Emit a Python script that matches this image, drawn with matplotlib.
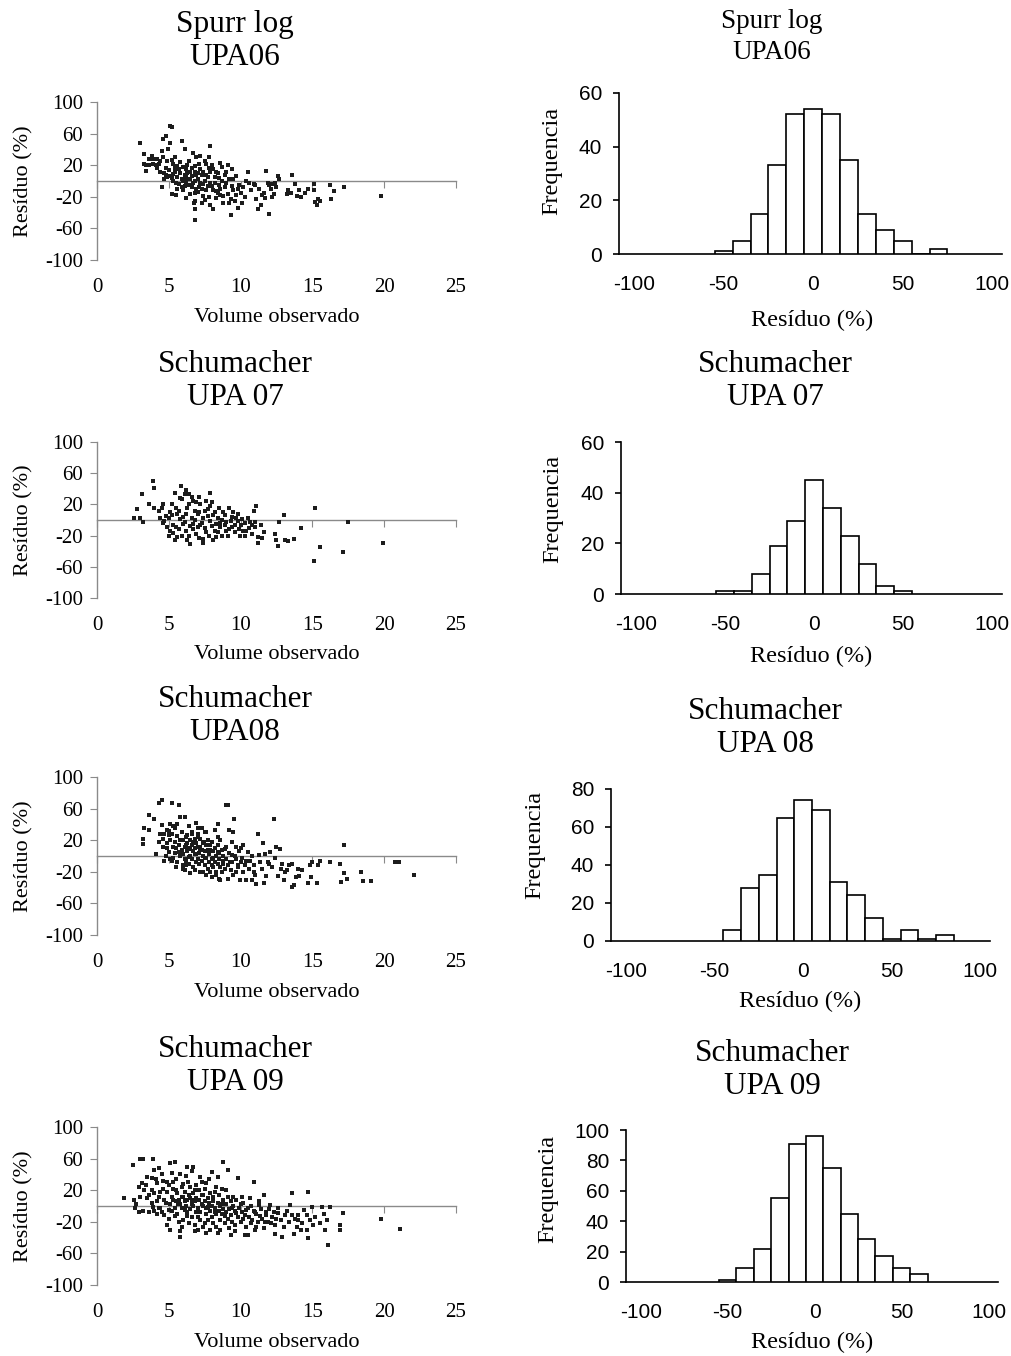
import matplotlib
matplotlib.use("Agg")
import matplotlib.pyplot as plt

plt.rcParams["axes.unicode_minus"] = False
plt.rcParams["font.family"] = ["Liberation Serif", "DejaVu Serif"]
SANS = ["Liberation Sans", "DejaVu Sans"]

# ---------------- data ----------------
vol_ticks = [0, 5, 10, 15, 20, 25]
resid_ticks = [-100, -60, -20, 20, 60, 100]
hist_xticks = [-100, -50, 0, 50, 100]

# scatter: (Volume observado, Resíduo %)
spurr06_pts = [
    (3.0, 48), (3.3, 34), (3.3, 22), (3.4, 13), (3.4, 20), (3.6, 20), (3.8, 32), (3.9, 22), (3.9, 28), (3.6, 28),
    (4.1, 20), (4.2, 16), (4.3, 22), (4.4, 12), (4.5, -8), (4.5, 38), (4.6, 53), (4.7, 10), (4.8, 57), (4.8, 17),
    (4.9, 25), (4.9, 5), (4.6, 30), (4.4, 25), (4.7, 2), (4.95, 40), (5.0, 14), (4.2, 28), (4.8, 8),
    (5.1, 70), (5.2, 68), (5.1, 48), (5.2, 27), (5.0, 6), (5.3, 0), (5.2, -17), (5.6, 19), (5.3, 22), (5.4, 12),
    (5.5, -3), (5.6, 5), (5.7, -4), (5.8, 10), (5.9, 51), (5.5, -18), (5.3, 9), (5.7, 15), (5.4, 30), (5.9, -8),
    (5.6, -10), (5.2, 4), (5.8, 24), (5.45, 17), (5.9, 2),
    (6.1, 40), (6.0, -11), (6.2, -21), (6.2, 15), (6.6, 6), (6.7, 36), (6.8, 19), (6.8, 0), (6.8, -15), (6.8, -25),
    (6.8, -36), (6.8, -49), (6.1, 8), (6.3, 2), (6.4, -5), (6.5, 12), (6.3, 20), (6.0, 0), (6.6, -8), (6.9, 8),
    (6.5, -16), (6.2, -2), (6.4, 25), (6.9, 30), (6.7, -3), (6.1, -6), (6.6, 17), (6.9, -10), (6.3, 10), (6.0, 18),
    (6.5, 3), (6.8, 12), (6.2, 5), (6.75, -28),
    (7.2, 32), (7.3, 8), (7.4, -4), (7.4, -19), (7.6, 21), (7.9, 44), (7.9, 11), (7.0, 2), (7.1, -8), (7.2, 15),
    (7.5, 0), (7.6, -12), (7.7, 5), (7.8, -20), (7.0, -14), (7.3, -28), (7.5, 25), (7.8, 30), (7.1, 22), (7.4, 12),
    (7.7, -6), (7.9, -2), (7.2, -2), (7.6, 8), (7.0, 10), (7.3, -10), (7.8, 16), (7.5, -24), (7.9, -30),
    (8.0, -6), (8.1, -35), (8.3, -13), (8.6, 23), (8.7, 0), (8.8, -19), (8.2, 5), (8.4, 10), (8.5, -5), (8.1, 15),
    (8.3, -22), (8.6, -10), (8.9, 8), (8.2, -2), (8.4, -15), (8.7, 18), (8.9, -8), (8.5, 4), (8.0, 20), (8.3, 12),
    (8.8, -28), (8.6, -18), (8.1, -12),
    (9.0, 11), (9.3, -43), (9.3, -23), (9.4, -6), (9.7, 6), (9.8, -34), (9.2, 2), (9.5, -12), (9.1, -16), (9.6, -25),
    (9.9, -5), (9.4, 15), (9.2, -28), (9.0, -2), (9.7, -18), (9.5, 3), (9.8, -10), (9.1, 20),
    (10.0, -15), (10.4, 0), (10.5, 11), (10.9, -4), (10.2, -8), (10.3, -20), (10.6, -2), (10.1, -28), (10.7, -12),
    (11.1, -23), (11.2, -36), (11.6, -15), (11.8, 13), (11.0, -5), (11.3, -10), (11.5, -18), (11.9, -3), (11.4, -30),
    (11.7, -22), (12.0, -42), (12.2, -4), (12.3, -17), (12.6, 6), (12.1, -10), (12.4, -2), (12.7, 3), (12.2, -20),
    (12.5, -8), (12.0, -5), (13.2, -17), (13.6, 7), (13.9, -19), (13.3, -12), (13.8, -4), (13.5, -15),
    (14.1, -11), (14.5, -15), (14.2, -20), (14.7, -10), (15.1, -4), (15.2, -27), (15.4, -23), (15.3, -30),
    (15.1, -12), (15.5, -25), (16.3, -23), (16.5, -13), (17.2, -8), (19.8, -19), (16.2, -5),
]

schum07_pts = [
    (2.6, 3), (2.8, 14), (3.0, 3), (3.1, 33), (3.2, -2), (3.6, 20), (3.9, 50), (4.0, 41), (4.0, 16), (4.3, 12),
    (4.4, 3), (4.5, 16), (4.6, -4), (4.7, -1), (4.9, -9), (5.0, 3), (5.1, -14), (5.2, 21), (5.3, -17), (5.4, 35),
    (5.4, -26), (5.5, -9), (5.6, 8), (5.7, 12), (5.8, 1), (5.85, 43), (5.9, 27), (5.96, -5), (6.1, 33), (6.2, 8),
    (6.2, -14), (6.3, -26), (6.4, 20), (6.4, 33), (6.5, -31), (6.6, 3), (6.7, 25), (6.7, -5), (6.8, 12), (6.9, 23),
    (7.0, -9), (7.1, 10), (7.1, -23), (7.2, -7), (7.4, -30), (7.4, 3), (7.5, 12), (7.6, -16), (7.6, 25), (7.75, 14),
    (7.9, 18), (7.9, -1), (8.0, 23), (8.05, -26), (8.1, 6), (8.2, -14), (8.3, -5), (8.45, 3), (8.6, -9), (8.7, 0),
    (8.8, 10), (8.9, -7), (9.0, -14), (9.2, 15), (9.3, -1), (9.4, -9), (9.5, 10), (9.6, -6), (9.7, 3), (9.8, -1),
    (9.95, -20), (10.1, 1), (10.2, -14), (10.3, -20), (10.4, -14), (10.5, 3), (10.65, -3), (10.8, -18), (10.9, 12),
    (11.0, -9), (11.1, 18), (11.2, -29), (11.2, -22), (11.4, -7), (11.5, -23), (11.6, -16), (12.4, -18),
    (12.45, -26), (12.6, -33), (12.7, -2), (13.0, 7), (13.1, -26), (13.3, -27), (13.7, -24), (14.2, -10),
    (15.1, -52), (15.2, 16), (15.5, -34), (17.1, -41), (17.5, -2), (19.9, -29),
    (4.8, 5), (5.0, -20), (5.2, 6), (5.5, 16), (5.7, -12), (5.9, -20), (6.0, 4), (6.1, -2), (6.3, 15), (6.5, -8),
    (6.6, 30), (6.8, 0), (6.9, -18), (7.0, 8), (7.2, 20), (7.3, -4), (7.5, -10), (7.7, 5), (7.8, -20), (8.0, -8),
    (8.2, 10), (8.4, -16), (8.5, 16), (8.7, -20), (8.9, 6), (9.0, -3), (9.2, -12), (9.4, 4), (9.6, -16), (9.8, 8),
    (10.0, -6), (10.3, -4), (10.6, -10), (11.0, -2), (6.4, -20), (5.6, -22), (7.9, 34), (6.2, 38), (5.3, -6),
    (6.7, -12), (7.4, -24), (8.3, -22), (9.1, -20), (4.6, 20), (5.8, 28), (7.1, 30), (8.6, -4), (9.9, -12),
    (10.8, -6), (5.1, 10),
]

schum08_pts = [
    (3.2, 21), (3.2, 15), (3.3, 35), (3.6, 33), (3.6, 52), (4.0, 47), (4.1, 3), (4.3, 18), (4.3, 67), (4.5, 71),
    (4.5, 39), (4.6, 22), (4.7, -6), (4.85, 33), (5.0, 26), (5.1, 40), (5.2, 67), (5.2, -6), (5.3, 11), (5.4, 35),
    (5.55, 41), (5.7, 64), (5.7, 5), (5.8, 50), (5.8, 20), (6.0, -12), (6.1, -18), (6.1, 50), (6.2, 14), (6.3, 26),
    (6.4, -1), (6.5, 9), (6.6, 31), (6.7, 18), (6.8, 3), (6.9, -8), (7.0, 11), (7.05, 24), (7.2, 7), (7.3, 35),
    (7.4, -20), (7.45, 18), (7.5, -3), (7.6, 31), (7.75, 7), (7.9, 14), (8.0, -12), (8.1, -3), (8.2, 33), (8.3, -20),
    (8.4, 41), (8.45, 5), (8.5, -29), (8.6, 20), (8.75, -6), (8.9, 9), (9.0, 64), (9.1, -29), (9.15, 64), (9.2, 33),
    (9.25, -8), (9.4, 1), (9.5, 31), (9.55, 47), (9.7, -20), (9.7, 11), (9.85, -12), (9.95, -31), (10.1, -3),
    (10.2, 14), (10.3, -12), (10.4, -31), (10.5, 5), (10.65, -6), (10.8, -31), (10.9, -12), (10.95, -20),
    (11.1, -35), (11.2, 28), (11.25, 1), (11.35, -8), (11.5, -16), (11.55, 16), (11.6, -34), (11.7, 2), (11.8, -25),
    (11.9, -8), (12.05, 5), (12.2, -14), (12.3, 47), (12.4, -3), (12.5, 11), (12.6, -25), (12.75, 9), (12.85, -10),
    (13.0, -31), (13.1, -20), (13.2, -18), (13.4, -12), (13.55, -39), (13.7, -37), (13.85, -27), (14.0, -16),
    (14.1, -25), (14.3, -18), (14.7, -34), (14.8, -12), (14.9, -27), (15.0, -8), (15.35, -34), (15.4, -12),
    (15.5, -6), (16.2, -8), (16.9, -10), (17.0, -33), (17.2, -22), (17.2, 14), (17.4, -29), (18.4, -20),
    (18.55, -32), (19.1, -32), (20.75, -8), (21.0, -8), (22.1, -24),
    (4.6, 12), (4.8, 0), (4.9, 16), (5.0, 5), (5.1, 20), (5.2, 28), (5.3, -2), (5.4, 18), (5.4, 4), (5.5, 10),
    (5.6, 25), (5.6, -8), (5.7, 14), (5.8, 0), (5.9, 8), (5.9, 30), (6.0, 20), (6.0, 3), (6.1, -4), (6.1, 12),
    (6.2, 24), (6.2, -6), (6.3, 6), (6.3, 16), (6.4, 10), (6.4, -10), (6.5, 20), (6.5, 0), (6.6, 14), (6.6, -4),
    (6.7, 6), (6.7, -14), (6.8, 22), (6.8, 10), (6.9, 2), (6.9, 16), (7.0, -4), (7.0, 28), (7.1, 4), (7.1, -10),
    (7.2, 12), (7.2, 22), (7.3, -6), (7.3, 8), (7.4, 0), (7.4, 16), (7.5, -12), (7.5, 6), (7.6, -2), (7.6, 14),
    (7.7, -16), (7.7, 20), (7.8, 2), (7.8, -8), (7.9, -20), (7.9, 8), (8.0, -4), (8.0, 18), (8.1, 6), (8.1, -14),
    (8.2, -8), (8.2, 10), (8.3, 0), (8.3, -24), (8.4, -10), (8.4, 14), (8.5, -4), (8.5, 4), (8.6, -14), (8.7, -20),
    (8.7, 8), (8.8, 0), (8.8, -10), (8.9, -16), (9.0, -4), (9.0, 12), (9.1, -12), (9.2, 4), (9.3, -18), (9.4, -8),
    (9.5, -24), (9.6, 0), (9.7, -4), (9.8, -14), (9.9, 6), (10.0, -8), (10.2, -20), (10.4, -6), (10.6, -16),
    (10.8, 0), (11.0, -24), (5.0, 32), (5.5, -14), (6.0, -16), (6.5, -22), (6.8, -18), (7.2, -20), (7.6, -24),
    (8.0, -26), (8.6, -30), (5.3, 38), (6.4, 38), (7.0, 36), (6.9, 42), (4.4, 28), (4.7, 28), (4.9, 10), (5.1, -4),
    (6.2, -12), (6.6, 28), (7.5, 30), (8.4, 24), (9.4, 18), (10.0, 10), (12.0, -10), (12.8, -16), (13.6, -10),
]

schum09_pts = [
    (1.85, 10), (2.5, 52), (2.6, 8), (2.75, 3), (2.65, -3), (2.9, -8), (3.0, 60), (3.2, 59), (3.1, 29), (3.3, 20),
    (3.5, 37), (3.5, 10), (3.6, -7), (3.8, 20), (3.9, 60), (4.0, 45), (3.9, -1), (4.2, 29), (4.3, 12), (4.3, -3),
    (4.5, 41), (4.6, 22), (4.7, 8), (4.85, 31), (5.0, -5), (5.1, 54), (5.1, -30), (5.2, 12), (5.3, 31), (5.4, 56),
    (5.4, -13), (5.5, 20), (5.65, 3), (5.8, -39), (5.8, 41), (5.9, 24), (5.9, -26), (6.0, 12), (6.1, -5), (6.25, 50),
    (6.25, -13), (6.35, 31), (6.5, 10), (6.6, 3), (6.7, 50), (6.8, 20), (6.9, -7), (7.05, -30), (7.2, 37), (7.3, 3),
    (7.4, 14), (7.5, -22), (7.6, 29), (7.75, -1), (7.9, -30), (8.0, 43), (8.1, 12), (8.2, -7), (8.3, 24), (8.45, 37),
    (8.6, -30), (8.7, 3), (8.8, 56), (8.9, -13), (9.0, 20), (9.15, 45), (9.3, -37), (9.4, -3), (9.5, 12), (9.7, -9),
    (9.85, 35), (10.0, 3), (10.1, 12), (10.2, -16), (10.3, -37), (10.4, -5), (10.5, -37), (10.65, 10), (10.75, -22),
    (10.9, 31), (11.0, -7), (11.1, -26), (11.25, 1), (11.35, -13), (11.6, 14), (11.7, -20), (11.8, -7), (12.05, 1),
    (12.15, -22), (12.3, -7), (12.4, -35), (12.5, -16), (12.6, -9), (12.85, -39), (13.1, -11), (13.45, 1),
    (13.55, 16), (13.7, -35), (13.8, -16), (13.9, -26), (14.0, -11), (14.25, -22), (14.4, -5), (14.6, -30),
    (14.7, -41), (14.7, 18), (14.8, -18), (14.95, -1), (15.05, -24), (15.5, -22), (15.65, -1), (15.9, -30),
    (16.1, -49), (16.2, -1), (16.9, -30), (16.9, -24), (17.15, -9), (19.8, -16), (21.1, -29),
    (3.2, -6), (3.4, 26), (3.6, 14), (3.8, 4), (4.0, -6), (4.0, 16), (4.1, 34), (4.2, 6), (4.4, -2), (4.4, 18),
    (4.5, -8), (4.6, 32), (4.7, -12), (4.8, 4), (4.9, 18), (5.0, 26), (5.0, -16), (5.1, 2), (5.2, -6), (5.3, 8),
    (5.3, 22), (5.4, -2), (5.5, 6), (5.5, 34), (5.6, -10), (5.6, 16), (5.7, 8), (5.7, -20), (5.8, 2), (5.9, 12),
    (5.9, -2), (6.0, 28), (6.0, -18), (6.1, 6), (6.1, 18), (6.2, 0), (6.2, 38), (6.3, -8), (6.3, 8), (6.4, -22),
    (6.4, 14), (6.5, -4), (6.5, 24), (6.6, 8), (6.6, -14), (6.7, 0), (6.7, 16), (6.8, -24), (6.8, 6), (6.9, 10),
    (6.9, 26), (7.0, -2), (7.0, -14), (7.1, 8), (7.1, 20), (7.2, -8), (7.2, -18), (7.3, 14), (7.4, 0), (7.4, -26),
    (7.5, 6), (7.5, 22), (7.6, -10), (7.6, -2), (7.7, 10), (7.7, -18), (7.8, 4), (7.8, 34), (7.9, -6), (7.9, 16),
    (8.0, -14), (8.0, 0), (8.1, -22), (8.1, 6), (8.2, 18), (8.2, -2), (8.3, -10), (8.3, -26), (8.4, 4), (8.5, -6),
    (8.5, 14), (8.6, -18), (8.6, 0), (8.7, -10), (8.7, 22), (8.8, -4), (8.8, 8), (8.9, -22), (9.0, -8), (9.0, 2),
    (9.1, -16), (9.1, 12), (9.2, -4), (9.2, -28), (9.3, 6), (9.3, -12), (9.4, -20), (9.5, 0), (9.6, -6), (9.6, -24),
    (9.7, 8), (9.8, -14), (9.9, -2), (10.0, -20), (10.1, -8), (10.2, 4), (10.3, -12), (10.4, -26), (10.5, -2),
    (10.6, -14), (10.7, 0), (10.8, -18), (10.9, -6), (11.0, -30), (11.1, -10), (11.2, -20), (11.3, 6), (11.4, -4),
    (11.5, -16), (11.6, -28), (11.8, -12), (11.9, -20), (12.0, -4), (12.2, -14), (12.4, -24), (12.6, -2),
    (12.8, -18), (13.0, -26), (13.2, -6), (13.4, -20), (13.6, -12), (14.0, -18), (14.2, -30), (14.6, -12),
    (15.2, -14), (15.8, -10), (16.0, -18), (5.2, 42), (6.6, 44), (7.3, 30), (4.3, 48), (3.8, 36), (5.8, -32),
    (6.8, -32), (7.6, -34), (8.4, -34), (9.6, -32), (4.9, -24), (4.2, -10), (3.0, 12), (2.9, 24),
]

# histograms: bin centres (Resíduo %) and counts (Frequencia)
spurr06_bins = [-50, -40, -30, -20, -10, 0, 10, 20, 30, 40, 50, 60, 70]
spurr06_freq = [1, 5, 15, 33, 52, 54, 52, 35, 15, 9, 5, 0, 2]
schum07_bins = [-50, -40, -30, -20, -10, 0, 10, 20, 30, 40, 50]
schum07_freq = [1, 1, 8, 19, 29, 45, 34, 23, 12, 3, 1]
schum08_bins = [-40, -30, -20, -10, 0, 10, 20, 30, 40, 50, 60, 70, 80]
schum08_freq = [6, 28, 35, 65, 74, 69, 31, 24, 12, 1, 6, 1, 3]
schum09_bins = [-50, -40, -30, -20, -10, 0, 10, 20, 30, 40, 50, 60]
schum09_freq = [1, 9, 22, 55, 91, 96, 75, 45, 28, 17, 9, 5]

# ---------------- layout helpers ----------------
W, H = 1012, 1356
fig = plt.figure(figsize=(W / 100, H / 100), dpi=100)


def rect(l, r, t, b):
    return [l / W, 1 - b / H, (r - l) / W, (b - t) / H]


GRAY = "#8a8a8a"


def scatter_panel(box, pts, title, tx, ty):
    ax = fig.add_axes(rect(*box))
    xs = [p[0] for p in pts]
    ys = [p[1] for p in pts]
    ax.scatter(xs, ys, s=10, c="#1c1c1c", marker="s", linewidths=0, zorder=3)
    ax.set_xlim(0, 25)
    ax.set_ylim(-100, 100)
    ax.set_yticks(resid_ticks)
    ax.set_xticks(vol_ticks)
    for s in ("top", "right"):
        ax.spines[s].set_visible(False)
    ax.spines["bottom"].set_position(("data", 0))
    for s in ("bottom", "left"):
        ax.spines[s].set_color(GRAY)
        ax.spines[s].set_linewidth(1.0)
    ax.tick_params(axis="x", direction="out", length=5, color=GRAY, labelbottom=False)
    ax.tick_params(axis="y", direction="out", length=5, color=GRAY, pad=5, labelsize=15)
    sec = ax.secondary_xaxis("bottom")
    sec.set_xticks(vol_ticks)
    sec.spines["bottom"].set_visible(False)
    sec.tick_params(length=0, pad=13, labelsize=15)
    ax.set_ylabel("Resíduo (%)", fontsize=16, va="center")
    ax.yaxis.set_label_coords(-0.205, 0.5)
    ax.set_xlabel("Volume observado", fontsize=16, va="center")
    ax.xaxis.set_label_coords(0.5, -0.365)
    fig.text(tx / W, 1 - ty / H, title, ha="center", va="center", fontsize=22.5, linespacing=1.2)
    return ax


def hist_panel(box, bins, freq, yticks, title, tx, ty, tsize, ylab_xy, xlab_xy):
    ax = fig.add_axes(rect(*box))
    ax.bar(bins, freq, width=10, color="white", edgecolor="black", linewidth=1.2, zorder=3)
    ax.set_xlim(-108.5, 105.5)
    ax.set_ylim(0, yticks[-1])
    ax.set_xticks(hist_xticks, labels=[str(v) for v in hist_xticks], fontfamily=SANS, fontsize=15)
    ax.set_yticks(yticks, labels=[str(v) for v in yticks], fontfamily=SANS, fontsize=15)
    for s in ("top", "right"):
        ax.spines[s].set_visible(False)
    for s in ("bottom", "left"):
        ax.spines[s].set_linewidth(1.2)
    ax.tick_params(axis="x", length=0, pad=15)
    ax.tick_params(axis="y", direction="out", length=4, width=1.2, pad=8)
    ax.set_ylabel("Frequencia", fontsize=17.5, va="center")
    ax.yaxis.set_label_coords(*ylab_xy)
    ax.set_xlabel("Resíduo (%)", fontsize=17.5, va="center")
    ax.xaxis.set_label_coords(*xlab_xy)
    fig.text(tx / W, 1 - ty / H, title, ha="center", va="center", fontsize=tsize,
             linespacing=1.3 if tsize < 21 else 1.2)
    return ax


# scatter panels (left column)
scatter_panel((97, 456, 102, 260), spurr06_pts, "Spurr log\nUPA06", 235, 41)
scatter_panel((97, 456, 442, 598), schum07_pts, "Schumacher\nUPA 07", 235, 381)
scatter_panel((97, 456, 777, 935), schum08_pts, "Schumacher\nUPA08", 235, 716)
scatter_panel((97, 456, 1127, 1285), schum09_pts, "Schumacher\nUPA 09", 235, 1066)

# histogram panels (right column)
hist_panel((619, 1002, 93, 254), spurr06_bins, spurr06_freq, [0, 20, 40, 60],
           "Spurr log\nUPA06", 772, 37, 19.5, (-0.175, 0.58), (0.505, -0.41))
hist_panel((621, 1002, 442, 594), schum07_bins, schum07_freq, [0, 20, 40, 60],
           "Schumacher\nUPA 07", 775, 381, 22.5, (-0.18, 0.56), (0.5, -0.41))
hist_panel((611, 990, 789, 941), schum08_bins, schum08_freq, [0, 20, 40, 60, 80],
           "Schumacher\nUPA 08", 765, 728, 22.5, (-0.2, 0.63), (0.5, -0.395))
hist_panel((626, 998, 1130, 1282), schum09_bins, schum09_freq, [0, 20, 40, 60, 80, 100],
           "Schumacher\nUPA 09", 772, 1070, 22.5, (-0.21, 0.61), (0.5, -0.395))

fig.savefig("out.png", dpi=100, facecolor="white")
